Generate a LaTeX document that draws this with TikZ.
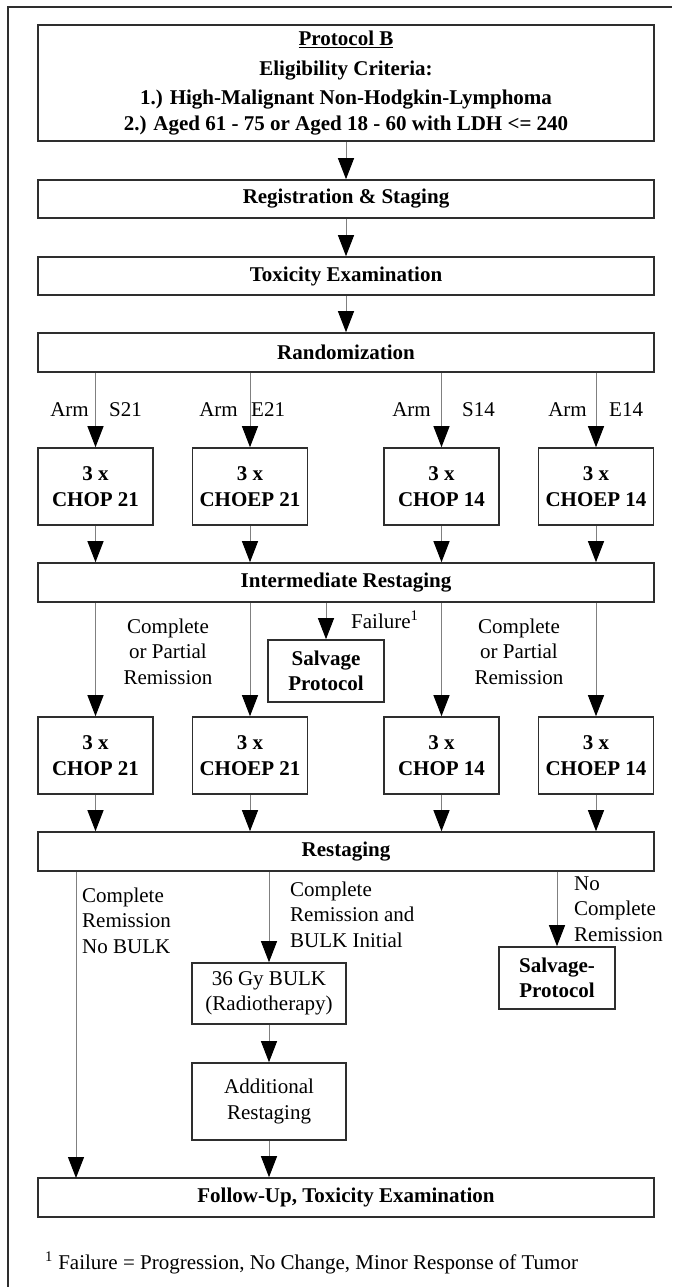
\documentclass[tikz,border=0pt]{standalone}
\usepackage{fontspec}
\setmainfont{Liberation Serif}
\usetikzlibrary{arrows.meta,calc,positioning}
\definecolor{flowline}{HTML}{2E2E2E}
\definecolor{flowwire}{HTML}{808080}
\newcommand{\flowfont}{\fontsize{21}{25.5}\selectfont}
\tikzset{
  stagebox/.style={
    draw=flowline,
    fill=white,
    line width=1.6pt,
    minimum width=616pt,
    minimum height=38pt,
    inner sep=0pt,
    align=center,
    font=\flowfont\bfseries
  },
  armbox/.style={
    stagebox,
    minimum width=115pt,
    minimum height=77pt
  },
  salvbox/.style={armbox, minimum width=116pt, minimum height=62pt},
  radiobox/.style={armbox, minimum width=154pt, font=\flowfont},
  flowlabel/.style={inner sep=0pt, align=center, font=\flowfont},
  arrow/.style={-{Triangle[length=21pt,width=16pt,color=black]}, line width=1pt, draw=flowwire},
  frameline/.style={line width=1.6pt, draw=flowline}
}
\begin{document}
\begin{tikzpicture}[x=1pt, y=-1pt]
  \useasboundingbox (0,0) rectangle (672,1287);
  \draw[frameline] (7.7,1287) -- (7.7,7) -- (672,7);
  % main column
  \node[stagebox, minimum height=116pt] (elig) at (346,83)
    {\underline{Protocol B}\\[4.5pt] Eligibility Criteria:\\[3.5pt] 1.) High-Malignant Non-Hodgkin-Lymphoma\\ 2.) Aged 61 - 75 or Aged 18 - 60 with LDH <= 240};
  \node[stagebox] (reg) at (346,199) {Registration \& Staging};
  \node[stagebox] (tox) at (346,276) {Toxicity Examination};
  \node[stagebox, minimum height=39pt] (rand) at (346,352.5) {Randomization};
  % first cycles
  \node[armbox] (s21a) at (95.5,486.5) {3 x\\CHOP 21};
  \node[armbox] (e21a) at (250,486.5) {3 x\\CHOEP 21};
  \node[armbox] (s14a) at (441.5,486.5) {3 x\\CHOP 14};
  \node[armbox] (e14a) at (596,486.5) {3 x\\CHOEP 14};
  \node[stagebox, minimum height=39pt] (inter) at (346,582.5) {Intermediate Restaging};
  \node[salvbox] (salv) at (326,671) {Salvage\\Protocol};
  % second cycles
  \node[armbox] (s21b) at (95.5,755.5) {3 x\\CHOP 21};
  \node[armbox] (e21b) at (250,755.5) {3 x\\CHOEP 21};
  \node[armbox] (s14b) at (441.5,755.5) {3 x\\CHOP 14};
  \node[armbox] (e14b) at (596,755.5) {3 x\\CHOEP 14};
  \node[stagebox, minimum height=39pt] (restage) at (346,851.5) {Restaging};
  \node[radiobox, minimum height=61pt] (bulk) at (269,993.5) {36 Gy BULK\\(Radiotherapy)};
  \node[radiobox] (addl) at (269,1101.5) {Additional\\Restaging};
  \node[salvbox] (salvb) at (557,978) {Salvage-\\Protocol};
  \node[stagebox, minimum height=39pt] (follow) at (346,1197.5) {Follow-Up, Toxicity Examination};
  % labels
  \node[flowlabel, anchor=east] (arms21) at (89,410) {Arm};
  \node[flowlabel, anchor=west] (lbls21) at (109,410) {S21};
  \node[flowlabel, anchor=east] (arme21) at (238,410) {Arm};
  \node[flowlabel, anchor=west] (lble21) at (251,410) {E21};
  \node[flowlabel, anchor=east] (arms14) at (431,410) {Arm};
  \node[flowlabel, anchor=west] (lbls14) at (462,410) {S14};
  \node[flowlabel, anchor=east] (arme14) at (587,410) {Arm};
  \node[flowlabel, anchor=west] (lble14) at (609,410) {E14};
  \node[flowlabel] (cprl) at (168,651.5) {Complete\\or Partial\\Remission};
  \node[flowlabel] (cprr) at (519,651.5) {Complete\\or Partial\\Remission};
  \node[flowlabel, anchor=west] (fail) at (351,620) {Failure\textsuperscript{1}};
  \node[flowlabel, anchor=west, align=left] (crnb) at (82,920.5) {Complete\\Remission\\No BULK};
  \node[flowlabel, anchor=west, align=left] (crbi) at (290,914.5) {Complete\\Remission and\\BULK Initial};
  \node[flowlabel, anchor=west, align=left] (ncr) at (574,909) {No\\Complete\\Remission};
  \node[flowlabel, anchor=west] (foot) at (45,1263) {\textsuperscript{1} Failure = Progression, No Change, Minor Response of Tumor};
  % connectors
  \draw[arrow] (elig) -- (reg);
  \draw[arrow] (reg) -- (tox);
  \draw[arrow] (tox) -- (rand);
  \foreach \arm in {s21,e21,s14,e14}{
    \draw[arrow] (rand.south -| \arm a.north) -- (\arm a.north);
    \draw[arrow] (\arm a.south) -- (\arm a.south |- inter.north);
    \draw[arrow] (inter.south -| \arm b.north) -- (\arm b.north);
    \draw[arrow] (\arm b.south) -- (\arm b.south |- restage.north);
  }
  \draw[arrow] (inter.south -| salv.north) -- (salv.north);
  \coordinate (nobulk) at (76,1178);
  \draw[arrow] (restage.south -| nobulk) -- (nobulk);
  \draw[arrow] (restage.south -| bulk.north) -- (bulk.north);
  \draw[arrow] (bulk) -- (addl);
  \draw[arrow] (addl.south) -- (addl.south |- follow.north);
  \draw[arrow] (restage.south -| salvb.north) -- (salvb.north);
\end{tikzpicture}
\end{document}
